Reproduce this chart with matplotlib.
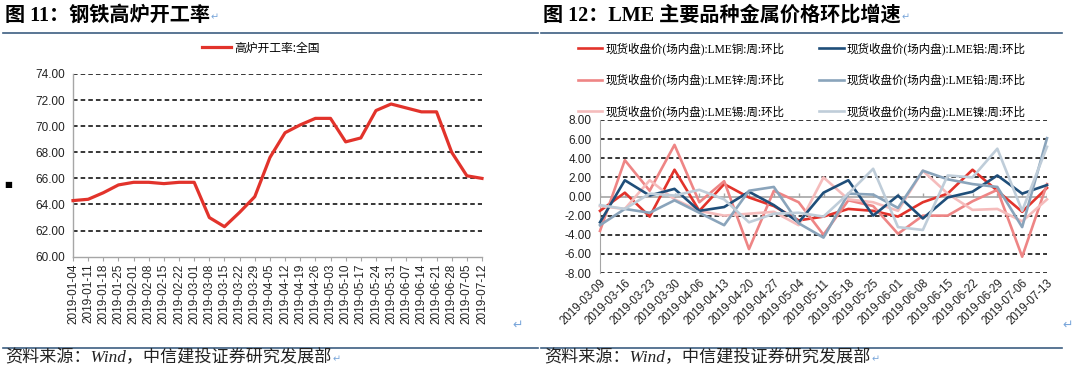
import matplotlib.pyplot as plt
import matplotlib.lines as mlines
from matplotlib.font_manager import FontProperties
import numpy as np

plt.rcParams['font.family'] = ['Liberation Sans', 'Noto Sans CJK SC', 'DejaVu Sans']

# ---- data: left panel (blast furnace utilisation, weekly) ----
bf_dates = ['2019-01-04', '2019-01-11', '2019-01-18', '2019-01-25', '2019-02-01',
            '2019-02-08', '2019-02-15', '2019-02-22', '2019-03-01', '2019-03-08',
            '2019-03-15', '2019-03-22', '2019-03-29', '2019-04-05', '2019-04-12',
            '2019-04-19', '2019-04-26', '2019-05-03', '2019-05-10', '2019-05-17',
            '2019-05-24', '2019-05-31', '2019-06-07', '2019-06-14', '2019-06-21',
            '2019-06-28', '2019-07-05', '2019-07-12']
bf_rate = [64.3, 64.4, 64.9, 65.5, 65.7, 65.7, 65.6, 65.7, 65.7, 63.0,
           62.3, 63.4, 64.6, 67.6, 69.5, 70.1, 70.6, 70.6, 68.8, 69.1,
           71.2, 71.7, 71.4, 71.1, 71.1, 68.0, 66.2, 66.0]
bf_label = '高炉开工率:全国'

# ---- data: right panel (LME spot weekly change, %) ----
lme_dates = ['2019-03-09', '2019-03-16', '2019-03-23', '2019-03-30', '2019-04-06',
             '2019-04-13', '2019-04-20', '2019-04-27', '2019-05-04', '2019-05-11',
             '2019-05-18', '2019-05-25', '2019-06-01', '2019-06-08', '2019-06-15',
             '2019-06-22', '2019-06-29', '2019-07-06', '2019-07-13']
copper = [-1.5, 0.4, -2.1, 2.8, -1.5, 1.3, -0.1, -1.0, -2.5, -2.1,
          -1.3, -1.5, -2.1, -0.6, 0.3, 2.8, 0.6, -1.6, 0.9]
aluminum = [-2.7, 1.7, 0.1, 0.8, -1.5, -1.1, 0.5, -0.9, -2.7, 0.4,
            1.7, -2.0, 0.1, -2.3, -0.1, 0.5, 2.2, 0.3, 1.2]
zinc = [-3.6, 3.8, 0.6, 5.4, -0.6, 1.6, -5.5, 0.6, -0.6, -4.0,
        -0.4, -1.0, -3.9, -2.0, -2.0, -0.5, 0.7, -6.3, 1.3]
lead = [-3.0, -1.3, -1.7, -0.4, -1.7, -3.0, 0.6, 1.0, -2.8, -4.3,
        0.3, 0.2, -1.2, 2.7, 1.8, 1.3, 1.0, -3.2, 6.1]
tin = [-1.0, -1.3, 1.7, -0.3, -1.5, -2.0, -1.8, -1.6, -3.0, 2.0,
       -0.3, -0.6, -1.5, 2.7, 0.3, -1.4, -1.3, -2.6, -0.3]
nickel = [-0.9, -1.3, 0.3, 0.1, 0.7, -0.3, -2.7, -1.8, -1.7, -2.1,
          0.3, 2.9, -3.2, -3.5, 2.2, 2.0, 5.0, -1.5, 5.2]
lme_names = ['铜', '锌', '锡', '铝', '铅', '镍']
lme_series = [copper, zinc, tin, aluminum, lead, nickel]
lme_colors = ['#e2332b', '#ee8585', '#f5bcbc', '#1f4e79', '#8aa4bb', '#bfcdd9']

W, H = 1080, 368
fig = plt.figure(figsize=(W / 100, H / 100), dpi=100)
fig.patch.set_facecolor('white')

def fx(px):
    return px / W

def fy(py):
    return 1 - py / H

grid_kw = dict(color='black', linestyle=(0, (3, 2)), linewidth=1.1)
serif_cjk = ['Liberation Serif', 'Noto Sans CJK SC', 'DejaVu Sans']
arrow_col = '#7aa6da'

# ---------------- left panel ----------------
ax1 = fig.add_axes([fx(73), fy(256.7), fx(409), (256.7 - 74) / H])
x1 = np.arange(len(bf_dates))
ax1.plot(x1, bf_rate, color='#e2332b', linewidth=2.3, label=bf_label,
         clip_on=False, zorder=3)
ax1.set_xlim(0, len(bf_dates) - 1)
ax1.set_ylim(60, 74)
ax1.set_yticks(np.arange(60, 75, 2))
ax1.set_yticklabels([f'{v:.2f}' for v in np.arange(60, 75, 2)])
ax1.set_xticks(x1)
ax1.set_xticklabels(bf_dates, rotation=90)
for y in np.arange(62, 75, 2):
    ax1.axhline(y, zorder=1, **grid_kw)
for s in ['top', 'right']:
    ax1.spines[s].set_visible(False)
for s in ['left', 'bottom']:
    ax1.spines[s].set_color('#a6a6a6')
    ax1.spines[s].set_linewidth(1.0)
ax1.tick_params(axis='x', length=3, color='#a6a6a6', labelsize=8.5,
                labelcolor='#222222', pad=2)
ax1.tick_params(axis='y', length=0, labelsize=8.5, labelcolor='#222222', pad=6)
ax1.legend(loc='center', bbox_to_anchor=(0.46, 1.142), frameon=False,
           prop=FontProperties(family=['Noto Sans CJK SC'], size=8.5),
           handlelength=2.4, handletextpad=0.3)

# ---------------- right panel ----------------
ax2 = fig.add_axes([fx(600), fy(273), fx(447), 153 / H])
x2 = np.arange(len(lme_dates))
for name, vals, col in zip(lme_names, lme_series, lme_colors):
    ax2.plot(x2, vals, color=col, linewidth=1.9,
             label=f'现货收盘价(场内盘):LME{name}:周:环比', clip_on=False, zorder=3)
ax2.set_xlim(0, len(lme_dates) - 1)
ax2.set_ylim(-8, 8)
ax2.set_yticks(np.arange(-8, 9, 2))
ax2.set_yticklabels([f'{v:.2f}' for v in np.arange(-8, 9, 2)])
ax2.set_xticks(x2)
ax2.set_xticklabels(lme_dates, rotation=45, ha='right', rotation_mode='anchor')
for y in np.arange(-8, 9, 2):
    if y != 0:
        ax2.axhline(y, zorder=1, **grid_kw)
ax2.axhline(0, color='#a6a6a6', linewidth=1.2, zorder=2)
ax2.vlines(x2, 0, 0.35, color='#a6a6a6', linewidth=1.0, zorder=2)
for s in ['top', 'right', 'bottom']:
    ax2.spines[s].set_visible(False)
ax2.spines['left'].set_color('#a6a6a6')
ax2.tick_params(axis='x', length=0, labelsize=8.3, labelcolor='#222222', pad=3)
ax2.tick_params(axis='y', length=0, labelsize=8.5, labelcolor='#222222', pad=6)
ax2.legend(loc='center', bbox_to_anchor=(0.452, 1.26), frameon=False, ncol=2,
           prop=FontProperties(family=serif_cjk, size=8.3),
           handlelength=2.1, handletextpad=0.3, columnspacing=3.0,
           labelspacing=1.6)

# ---------------- titles, rules, footnotes ----------------
title_fp = FontProperties(family=serif_cjk, size=14.5, weight='bold')
foot_fp = FontProperties(family=serif_cjk, size=12.3, style='italic')
foot = '资料来源：Wind，中信建投证券研究发展部'
texts = [
    fig.text(fx(5), fy(16), '图 11：钢铁高炉开工率', fontproperties=title_fp,
             va='center', ha='left'),
    fig.text(fx(543), fy(16), '图 12：LME 主要品种金属价格环比增速',
             fontproperties=title_fp, va='center', ha='left'),
    fig.text(fx(5), fy(358), foot, fontproperties=foot_fp, va='center',
             ha='left', color='#222222'),
    fig.text(fx(544), fy(358), foot, fontproperties=foot_fp, va='center',
             ha='left', color='#222222'),
]

for x0, x1_ in [(3, 538), (541, 1062)]:
    fig.add_artist(mlines.Line2D([fx(x0), fx(x1_)], [fy(33), fy(33)],
                                 color='#3d5f82', linewidth=1.2))
    fig.add_artist(mlines.Line2D([fx(x0), fx(x1_)], [fy(348), fy(348)],
                                 color='#3d5f82', linewidth=1.2))

# small return marks after each paragraph
renderer = fig.canvas.get_renderer()
for t in texts:
    bb = t.get_window_extent(renderer)
    fig.text((bb.x1 + 1) / W, (bb.y0 + bb.y1) / 2 / H - 0.004, '↵',
             color=arrow_col, fontsize=7, va='center', family=['DejaVu Sans'])
fig.text(fx(512), fy(325), '↵', color=arrow_col, fontsize=9, va='center',
         family=['DejaVu Sans'])
fig.text(fx(1062), fy(325), '↵', color=arrow_col, fontsize=9, va='center',
         family=['DejaVu Sans'])
fig.text(fx(8), fy(185), '■', fontsize=6, va='center', ha='center',
         family=['DejaVu Sans'])

fig.savefig('out.png', dpi=100, facecolor='white')
plt.close(fig)
